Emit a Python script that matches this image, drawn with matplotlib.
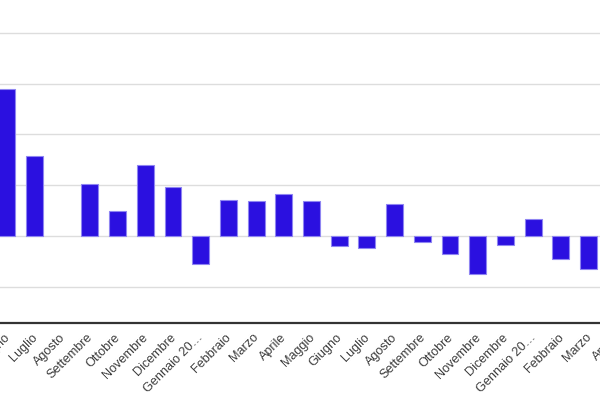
import numpy as np
import matplotlib
matplotlib.use("Agg")
import matplotlib.pyplot as plt

months = ["Giugno", "Luglio", "Agosto", "Settembre", "Ottobre", "Novembre",
          "Dicembre", "Gennaio 20…", "Febbraio", "Marzo", "Aprile", "Maggio",
          "Giugno", "Luglio", "Agosto", "Settembre", "Ottobre", "Novembre",
          "Dicembre", "Gennaio 20…", "Febbraio", "Marzo", "Aprile"]
values = [2.89, 1.57, 0.0, 1.02, 0.49, 1.40, 0.96, -0.55, 0.71, 0.69, 0.83,
          0.69, -0.20, -0.24, 0.63, -0.12, -0.35, -0.75, -0.18, 0.33, -0.45,
          -0.65, np.nan]
grid_values = [-1, 0, 1, 2, 3, 4]

plt.rcParams['font.family'] = ['Liberation Sans', 'DejaVu Sans']

fig = plt.figure(figsize=(6, 4), dpi=100)
# the plot area runs a little past the left and right edges of the picture
ax = fig.add_axes([-7.05 / 600, 77 / 400, 637.1 / 600, 323 / 400])

x = np.arange(len(months))
edges = ["none" if (v == 0) else "#8f85f2" for v in values]
ax.bar(x, values, width=0.61, color="#2b10e0", edgecolor=edges,
       linewidth=0.8, zorder=3)

ax.set_yticks(grid_values)
ax.yaxis.grid(True, color="#dddddd", linewidth=1.0, zorder=0)
ax.tick_params(axis='y', length=0, labelleft=False)
ax.tick_params(axis='x', length=0, pad=9)

ax.set_xticks(x)
ax.set_xticklabels(months, fontsize=9.1, color="#3c3c3c")
ax.set_xlim(-0.5, len(months) - 0.5)
ax.set_ylim(-1.713, 4.646)

offset = matplotlib.transforms.ScaledTranslation(1 / 100, 0, fig.dpi_scale_trans)
for lab in ax.get_xticklabels():
    lab.set_rotation(45)
    lab.set_rotation_mode('anchor')
    lab.set_horizontalalignment('right')
    lab.set_verticalalignment('center')
    lab.set_transform(lab.get_transform() + offset)

for side in ['top', 'left', 'right']:
    ax.spines[side].set_visible(False)
ax.spines['bottom'].set_color("#333333")
ax.spines['bottom'].set_linewidth(1.6)
ax.spines['bottom'].set_zorder(4)

fig.savefig("out.png", dpi=100)
